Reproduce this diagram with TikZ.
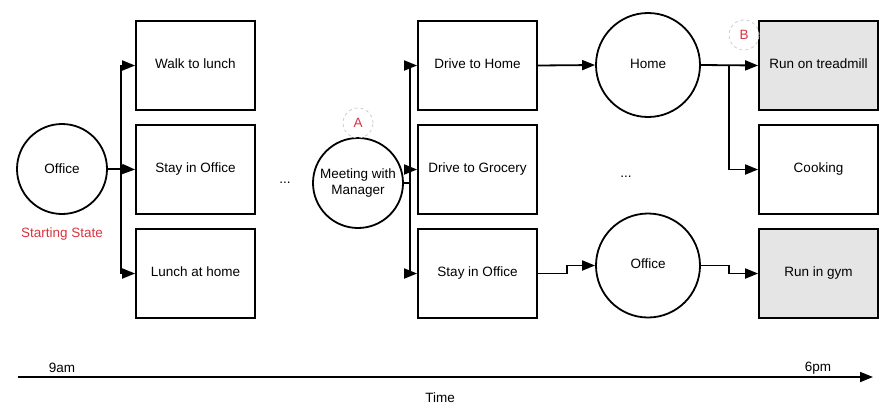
\documentclass[tikz,border=0pt]{standalone}
\usepackage{fontspec}
\setmainfont{Liberation Sans}
\usetikzlibrary{arrows.meta}
\definecolor{redtxt}{HTML}{D9343F}
\definecolor{grayfill}{HTML}{E5E5E5}
\tikzset{
  box/.style={draw=black, line width=1.8pt, minimum width=119pt, minimum height=89pt, inner sep=0pt, font=\fontsize{13.5}{16}\selectfont, align=center},
  state/.style={draw=black, circle, line width=1.8pt, inner sep=0pt, font=\fontsize{13.5}{16}\selectfont, align=center},
  marker/.style={draw=black!20, dashed, circle, line width=0.8pt, minimum size=30pt, inner sep=0pt, text=redtxt, font=\fontsize{13.5}{16}\selectfont},
  conn/.style={line width=1.8pt, -{Triangle[length=13pt,width=10pt]}},
  plain/.style={line width=1.8pt},
  lbl/.style={font=\fontsize{13.5}{16}\selectfont, inner sep=0pt},
}
\begin{document}
\begin{tikzpicture}[x=1pt,y=-1pt]
\useasboundingbox (0,0) rectangle (890,416);
% column 0
\node[state, minimum size=90pt] (office) at (62,169) {Office};
\node[lbl, text=redtxt] (start) at (62,234) {Starting State};
% column 1
\node[box] (walk) at (195.5,65.5) {Walk to lunch\vphantom{y}};
\node[box] (stay1) at (195.5,169.5) {Stay in Office};
\node[box] (lunch) at (195.5,273.5) {Lunch at home\vphantom{y}};
\node[lbl] (dots1) at (285,183) {...};
% meeting
\node[state, minimum size=90pt] (meet) at (358,183) {Meeting with\\Manager};
\node[marker] (A) at (358,123) {A};
% column 2
\node[box] (drivehome) at (477.5,65.5) {Drive to Home\vphantom{y}};
\node[box] (grocery) at (477.5,169.5) {Drive to Grocery};
\node[box] (stay2) at (477.5,273.5) {Stay in Office\vphantom{y}};
\node[lbl] (dots2) at (626,177) {...};
% column 3
\node[state, minimum size=104pt] (home) at (648,65) {Home\vphantom{y}};
\node[state, minimum size=104pt] (office2) at (648,265.5) {Office\vphantom{y}};
% column 4
\node[box, fill=grayfill] (tread) at (818.5,65.5) {Run on treadmill\vphantom{y}};
\node[box] (cook) at (818.5,169.5) {Cooking};
\node[box, fill=grayfill] (gym) at (818.5,273.5) {Run in gym};
\node[marker, fill=white, fill opacity=0.6, text opacity=1] (B) at (744,35) {B};
% connectors from office
\coordinate (s1) at (121,169);
\draw[plain] (office.east) -- (s1);
\draw[conn] (s1) |- (walk.west);
\draw[conn] (s1) -- (stay1.west);
\draw[conn] (s1) |- (lunch.west);
% connectors from meeting
\coordinate (s2) at (410,183);
\draw[plain] (meet.east) -- (s2);
\draw[conn] (s2) |- (drivehome.west);
\draw[conn] (s2) |- (grocery.west);
\draw[conn] (s2) |- (stay2.west);
% to home / office
\draw[conn] (drivehome.east) -- (home.west);
\coordinate (s3) at (567,273.5);
\draw[conn] (stay2.east) -- (s3) |- (office2.west);
% from home
\coordinate (s4) at (729,65);
\draw[conn] (home.east) -- (tread.west);
\draw[conn] (s4) |- (cook.west);
% from office2
\coordinate (s5) at (729,265.5);
\draw[conn] (office2.east) -- (s5) |- (gym.west);
% timeline
\coordinate (t0) at (18,377);
\coordinate (t1) at (873,377);
\draw[conn] (t0) -- (t1);
\node[lbl] (nine) at (62,368) {9am};
\node[lbl] (six) at (818,368) {6pm};
\node[lbl] (time) at (440,398) {Time};
\end{tikzpicture}
\end{document}
